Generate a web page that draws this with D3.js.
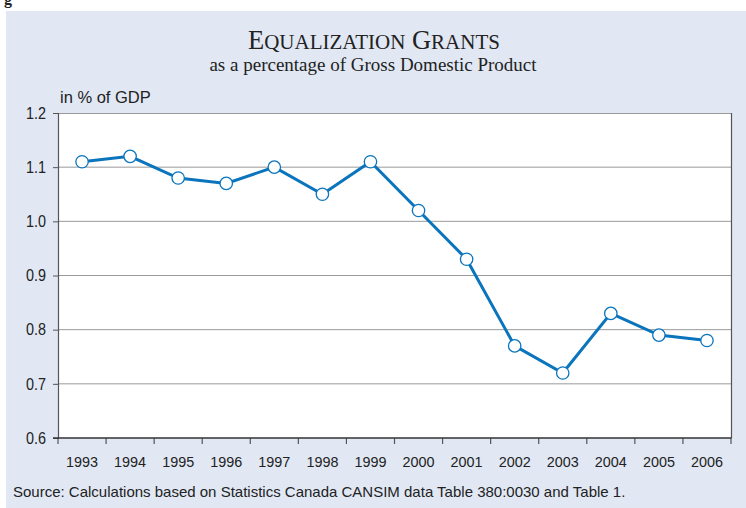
<!DOCTYPE html>
<html><head><meta charset="utf-8">
<script src="https://cdn.jsdelivr.net/npm/d3@7"></script>
<style>body{margin:0;background:#fff}svg{display:block}</style>
</head><body>
<svg id="c" width="746" height="508"></svg>
<script>
const years = ["1993","1994","1995","1996","1997","1998","1999","2000","2001","2002","2003","2004","2005","2006"];
const values = [1.11,1.12,1.08,1.07,1.10,1.05,1.11,1.02,0.93,0.77,0.72,0.83,0.79,0.78];
const yTicks = [0.6,0.7,0.8,0.9,1.0,1.1,1.2];

const svg = d3.select("#c");
svg.append("rect").attr("x",6).attr("y",11).attr("width",740).attr("height",497).attr("fill","#e1e8f4");
svg.append("text").attr("x",4).attr("y",4).attr("font-family","Liberation Serif").attr("font-weight","bold").attr("font-size",16).attr("fill","#222").text("g");

const L=58,R=731,T=113,B=438;
const x = d3.scaleBand().domain(years).range([L,R]);
const y = d3.scaleLinear().domain([0.6,1.2]).range([B,T]);

svg.append("rect").attr("x",L).attr("y",T).attr("width",R-L).attr("height",B-T).attr("fill","#fff");

// grid
svg.append("g").selectAll("line").data(yTicks.filter(d=>d>0.6&&d<1.2)).join("line")
  .attr("x1",L).attr("x2",R).attr("y1",d=>y(d)).attr("y2",d=>y(d))
  .attr("stroke","#9a9a9a").attr("stroke-width",1);
svg.append("line").attr("x1",L).attr("x2",R).attr("y1",T+0.5).attr("y2",T+0.5).attr("stroke","#9a9a9a");
svg.append("line").attr("x1",R+0.5).attr("x2",R+0.5).attr("y1",T).attr("y2",B).attr("stroke","#555").attr("stroke-width",1.2);

// y axis
const ya = svg.append("g").attr("transform",`translate(${L},0)`)
  .call(d3.axisLeft(y).tickValues(yTicks).tickFormat(d3.format(".1f")).tickSize(5).tickPadding(7));
ya.select(".domain").attr("stroke","#555").attr("stroke-width",1.2);
ya.selectAll(".tick line").attr("stroke","#555");
ya.selectAll("text").attr("font-family","Liberation Sans, Arial").attr("font-size",16.5).attr("fill","#222")
  .attr("textLength",20).attr("lengthAdjust","spacingAndGlyphs");

// x axis
const xa = svg.append("g").attr("transform",`translate(0,${B})`)
  .call(d3.axisBottom(x).tickSize(0).tickPadding(18));
xa.select(".domain").remove();
xa.selectAll("text").attr("font-family","Liberation Sans, Arial").attr("font-size",15.5).attr("fill","#222")
  .attr("textLength",32).attr("lengthAdjust","spacingAndGlyphs");
const bounds = years.map(d=>x(d)).concat([x(years[years.length-1])+x.bandwidth()]);
svg.append("g").selectAll("line").data(bounds).join("line")
  .attr("x1",d=>d).attr("x2",d=>d).attr("y1",B).attr("y2",B+6).attr("stroke","#555").attr("stroke-width",1.2);
svg.append("line").attr("x1",L-5).attr("x2",R+0.5).attr("y1",B).attr("y2",B).attr("stroke","#333").attr("stroke-width",1.5);

// line
const cx = d=>x(d)+x.bandwidth()/2;
svg.append("path").datum(years.map((d,i)=>[cx(d),y(values[i])]))
  .attr("d",d3.line()).attr("fill","none").attr("stroke","#0a74bd").attr("stroke-width",3);
svg.append("g").selectAll("circle").data(years).join("circle")
  .attr("cx",cx).attr("cy",(d,i)=>y(values[i])).attr("r",6.2)
  .attr("fill","#fff").attr("stroke","#0a74bd").attr("stroke-width",1.3);

// titles
const t = svg.append("text").attr("x",374).attr("y",49).attr("text-anchor","middle")
  .attr("font-family","Liberation Serif, Times New Roman").attr("fill","#222");
t.append("tspan").attr("font-size",26.5).text("E");
t.append("tspan").attr("font-size",21).text("QUALIZATION");
t.append("tspan").attr("font-size",26.5).text(" G");
t.append("tspan").attr("font-size",21).text("RANTS");
svg.append("text").attr("x",373).attr("y",71).attr("text-anchor","middle")
  .attr("font-family","Liberation Serif, Times New Roman").attr("font-size",19).attr("fill","#222")
  .text("as a percentage of Gross Domestic Product");
svg.append("text").attr("x",60).attr("y",103).attr("font-family","Liberation Sans, Arial").attr("font-size",16.5).attr("fill","#222").text("in % of GDP");
svg.append("text").attr("x",13).attr("y",497).attr("font-family","Liberation Sans, Arial").attr("font-size",15).attr("fill","#222")
  .text("Source: Calculations based on Statistics Canada CANSIM data Table 380:0030 and Table 1.");
</script>
</body></html>
